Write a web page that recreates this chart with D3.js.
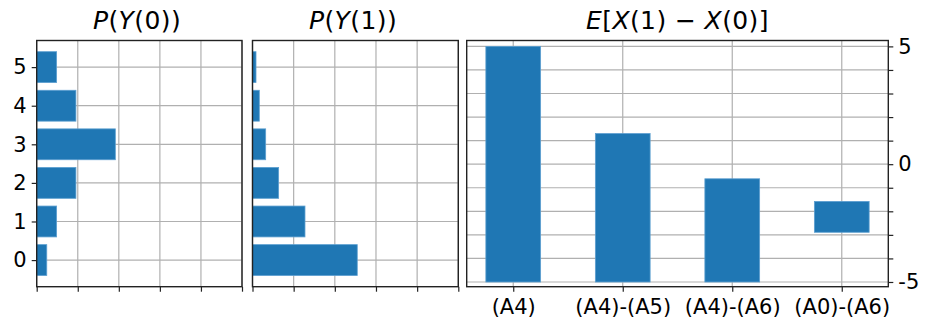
<!DOCTYPE html>
<html>
<head>
<meta charset="utf-8">
<script src="https://d3js.org/d3.v7.min.js"></script>
<style>
  body { margin: 0; background: #fff; }
  svg text { font-family: "DejaVu Sans", sans-serif; fill: #000; }
  .grid line { stroke: #b0b0b0; stroke-width: 1.2; }
  .spine { fill: none; stroke: #222; stroke-width: 1.4; }
  .bar { fill: #1f77b4; stroke: #5c9fd0; stroke-width: 0.8; }
</style>
</head>
<body>
<div id="chart"></div>
<script>
// data
var outcomes = [0, 1, 2, 3, 4, 5];
var probY0 = [0.049, 0.097, 0.191, 0.383, 0.191, 0.097];
var probY1 = [0.509, 0.255, 0.127, 0.064, 0.033, 0.017];
var probTicks = [0, 0.2, 0.4, 0.6, 0.8, 1.0];

var contrasts = ["(A4)", "(A4)-(A5)", "(A4)-(A6)", "(A0)-(A6)"];
var effectTop = [5, 1.3, -0.62, -1.58];
var effectBottom = [-5, -5, -5, -2.89];
var effectTicks = [-5, -4, -3, -2, -1, 0, 1, 2, 3, 4, 5];
var effectLabels = [-5, 0, 5];

var width = 934;
var height = 329;
var plotTop = 40.5;
var plotBottom = 286.7;
var tickLen = 5;
var fontSize = 21;

var svg = d3
  .select("#chart")
  .append("svg")
  .attr("width", width)
  .attr("height", height);

// titles with italic letters like mathtext
function title(cx, parts) {
  var t = svg
    .append("text")
    .attr("x", cx)
    .attr("y", 29)
    .attr("text-anchor", "middle")
    .attr("letter-spacing", 0.4)
    .attr("font-size", 25);
  parts.forEach(function(p) {
    t.append("tspan")
      .attr("font-style", p[1] ? "italic" : "normal")
      .text(p[0]);
  });
}

// style the d3 axis pieces
function styleAxis(a, size) {
  a.select(".domain").remove();
  a.selectAll("line").attr("stroke", "#222").attr("stroke-width", 1.2);
  a.selectAll("text")
    .attr("font-size", size)
    .attr("font-family", "DejaVu Sans")
    .attr("fill", "#000");
}

// horizontal probability panel
function probPanel(x0, x1, values, showLabels) {
  var xScale = d3.scaleLinear().domain([0, 1]).range([x0, x1]);
  var yScale = d3.scaleLinear().domain([-0.69, 5.69]).range([plotBottom, plotTop]);
  var bandH = yScale(0) - yScale(0.8);

  var g = svg.append("g");

  // grid
  var grid = g.append("g").attr("class", "grid");
  grid.selectAll("line.v")
    .data(probTicks)
    .enter()
    .append("line")
    .attr("class", "v")
    .attr("x1", function(d) { return xScale(d); })
    .attr("x2", function(d) { return xScale(d); })
    .attr("y1", plotTop)
    .attr("y2", plotBottom);
  grid.selectAll("line.h")
    .data(outcomes)
    .enter()
    .append("line")
    .attr("class", "h")
    .attr("x1", x0)
    .attr("x2", x1)
    .attr("y1", function(d) { return yScale(d); })
    .attr("y2", function(d) { return yScale(d); });

  // bars
  g.selectAll("rect.bar")
    .data(values)
    .enter()
    .append("rect")
    .attr("class", "bar")
    .attr("x", xScale(0))
    .attr("y", function(d, i) { return yScale(outcomes[i] + 0.4); })
    .attr("width", function(d) { return xScale(d) - xScale(0); })
    .attr("height", bandH);

  // axes, labels hidden on x
  var xAxis = d3.axisBottom(xScale)
    .tickValues(probTicks)
    .tickSize(tickLen)
    .tickFormat("");
  g.append("g")
    .attr("transform", "translate(0," + plotBottom + ")")
    .call(xAxis)
    .call(styleAxis, fontSize);

  if (showLabels) {
    var yAxis = d3.axisLeft(yScale)
      .tickValues(outcomes)
      .tickSize(tickLen)
      .tickPadding(5)
      .tickFormat(d3.format("d"));
    g.append("g")
      .attr("transform", "translate(" + x0 + ",0)")
      .call(yAxis)
      .call(styleAxis, fontSize);
  }

  g.append("rect")
    .attr("class", "spine")
    .attr("x", x0)
    .attr("y", plotTop)
    .attr("width", x1 - x0)
    .attr("height", plotBottom - plotTop);
}

probPanel(36.7, 242, probY0, true);
probPanel(252.5, 458.3, probY1, false);

title(137, [["P", true], ["(", false], ["Y", true], ["(0))", false]]);
title(353, [["P", true], ["(", false], ["Y", true], ["(1))", false]]);

// effect panel on the right
var rx0 = 466.7;
var rx1 = 888.3;
var xBand = d3.scaleLinear().domain([-0.425, 3.425]).range([rx0, rx1]);
var yEff = d3.scaleLinear().domain([-5.2, 5.25]).range([plotBottom, plotTop]);

var rg = svg.append("g");
var rgrid = rg.append("g").attr("class", "grid");
rgrid.selectAll("line.v")
  .data(contrasts)
  .enter()
  .append("line")
  .attr("class", "v")
  .attr("x1", function(d, i) { return xBand(i); })
  .attr("x2", function(d, i) { return xBand(i); })
  .attr("y1", plotTop)
  .attr("y2", plotBottom);
rgrid.selectAll("line.h")
  .data(effectTicks)
  .enter()
  .append("line")
  .attr("class", "h")
  .attr("x1", rx0)
  .attr("x2", rx1)
  .attr("y1", function(d) { return yEff(d); })
  .attr("y2", function(d) { return yEff(d); });

rg.selectAll("rect.bar")
  .data(contrasts)
  .enter()
  .append("rect")
  .attr("class", "bar")
  .attr("x", function(d, i) { return xBand(i - 0.25); })
  .attr("width", xBand(0.25) - xBand(-0.25))
  .attr("y", function(d, i) { return yEff(effectTop[i]); })
  .attr("height", function(d, i) { return yEff(effectBottom[i]) - yEff(effectTop[i]); });

var xAxisR = d3.axisBottom(xBand)
  .tickValues(d3.range(contrasts.length))
  .tickSize(tickLen)
  .tickPadding(7)
  .tickFormat(function(i) { return contrasts[i]; });
rg.append("g")
  .attr("transform", "translate(0," + plotBottom + ")")
  .call(xAxisR)
  .call(styleAxis, fontSize);

var yAxisR = d3.axisRight(yEff)
  .tickValues(effectTicks)
  .tickSize(tickLen)
  .tickPadding(5)
  .tickFormat(function(d) { return effectLabels.indexOf(d) >= 0 ? String(d) : ""; });
rg.append("g")
  .attr("transform", "translate(" + rx1 + ",0)")
  .call(yAxisR)
  .call(styleAxis, fontSize);

rg.append("rect")
  .attr("class", "spine")
  .attr("x", rx0)
  .attr("y", plotTop)
  .attr("width", rx1 - rx0)
  .attr("height", plotBottom - plotTop);

title((rx0 + rx1) / 2, [["E", true], ["[", false], ["X", true], ["(1) \u2212 ", false], ["X", true], ["(0)]", false]]);
</script>
</body>
</html>
